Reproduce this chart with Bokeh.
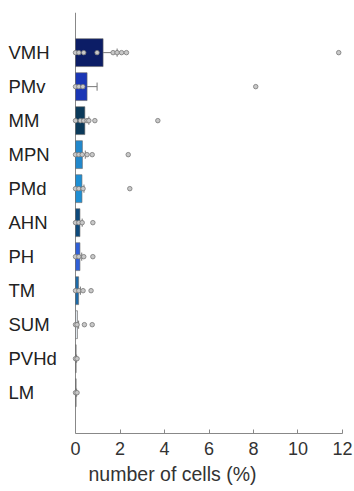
from bokeh.plotting import figure
from bokeh.models import Range1d, ColumnDataSource, FixedTicker
from bokeh.core.properties import value
from bokeh.embed import file_html
from bokeh.resources import INLINE

regions = ["VMH", "PMv", "MM", "MPN", "PMd", "AHN", "PH", "TM", "SUM", "PVHd", "LM"]
means = [1.24, 0.52, 0.42, 0.31, 0.29, 0.20, 0.20, 0.14, 0.09, 0.03, 0.03]
err_upper = [1.87, 0.97, 0.60, 0.44, 0.38, 0.30, 0.28, 0.22, 0.14, 0.05, 0.05]
bar_colors = ["#0c1d66", "#1a36b5", "#0b3a5a", "#2188cc", "#1e8fd4", "#0e4a7c",
              "#2f5fd8", "#1d6aa8", "#dfe6ec", "#9a9a9a", "#9a9a9a"]
points = [
    [0.0, 0.15, 0.37, 0.97, 1.69, 1.87, 2.07, 2.29, 11.83],
    [0.0, 0.15, 0.33, 8.1],
    [0.0, 0.22, 0.37, 0.52, 0.6, 0.87, 3.7],
    [0.0, 0.15, 0.3, 0.52, 0.75, 2.37],
    [0.0, 0.15, 0.34, 2.44],
    [0.0, 0.15, 0.3, 0.78],
    [0.0, 0.15, 0.37, 0.78],
    [0.0, 0.15, 0.34, 0.7],
    [0.0, 0.07, 0.4, 0.75],
    [0.0, 0.07],
    [0.0, 0.07],
]
x_ticks = [0, 2, 4, 6, 8, 10, 12]

n = len(regions)
ypos = [n - 1 - i for i in range(n)]
Y0, Y1 = -1.2, 11.18

p = figure(width=354, height=491, output_backend="svg", toolbar_location=None,
           x_range=Range1d(-3.371, 12.09), y_range=Range1d(Y0, Y1),
           min_border_left=0, min_border_right=10, min_border_top=12, min_border_bottom=58)
p.outline_line_color = None
p.xgrid.visible = False
p.ygrid.visible = False
p.yaxis.visible = False
p.background_fill_color = "white"
p.border_fill_color = "white"

# y axis line at x = 0
p.segment(x0=[0], y0=[Y0], x1=[0], y1=[Y1], line_color="#888888", line_width=1)

src = ColumnDataSource(dict(y=ypos, right=means, color=bar_colors))
p.hbar(y="y", left=0, right="right", height=0.82, fill_color="color",
       line_color="#666666", line_width=0.6, source=src)

# error bars
es = ColumnDataSource(dict(y=ypos, x0=means, x1=err_upper,
                           y0=[v - 0.12 for v in ypos], y1=[v + 0.12 for v in ypos]))
p.segment(x0="x0", y0="y", x1="x1", y1="y", line_color="#777777", line_width=1, source=es)
p.segment(x0="x1", y0="y0", x1="x1", y1="y1", line_color="#777777", line_width=1, source=es)

px, py = [], []
for yv, pts in zip(ypos, points):
    for v in pts:
        px.append(v)
        py.append(yv)
p.scatter(px, py, size=4.5, fill_color="#c8c8c8", line_color="#777777", line_width=0.8)

# region labels
ls = ColumnDataSource(dict(x=[-3.01] * n, y=ypos, t=regions))
p.text(x="x", y="y", text="t", source=ls, text_font=value("Liberation Sans"),
       text_font_size="18.5px", text_color="#222222", text_baseline="middle",
       text_align="left")

# x axis
p.xaxis.bounds = (0, 12)
p.xaxis.ticker = FixedTicker(ticks=x_ticks)
p.xaxis.minor_tick_line_color = None
p.xaxis.major_tick_in = 4
p.xaxis.major_tick_out = 0
p.xaxis.axis_line_color = "#888888"
p.xaxis.major_tick_line_color = "#888888"
p.xaxis.major_label_text_font = "Liberation Sans"
p.xaxis.major_label_text_font_size = "18px"
p.xaxis.major_label_text_color = "#333333"
p.xaxis.major_label_standoff = 8
p.xaxis.axis_label = "number of cells (%)"
p.xaxis.axis_label_text_font = "Liberation Sans"
p.xaxis.axis_label_text_font_size = "19.5px"
p.xaxis.axis_label_text_font_style = "normal"
p.xaxis.axis_label_text_color = "#333333"
p.xaxis.axis_label_standoff = 5

html = file_html(p, INLINE)
open("out.html", "w").write(html)
